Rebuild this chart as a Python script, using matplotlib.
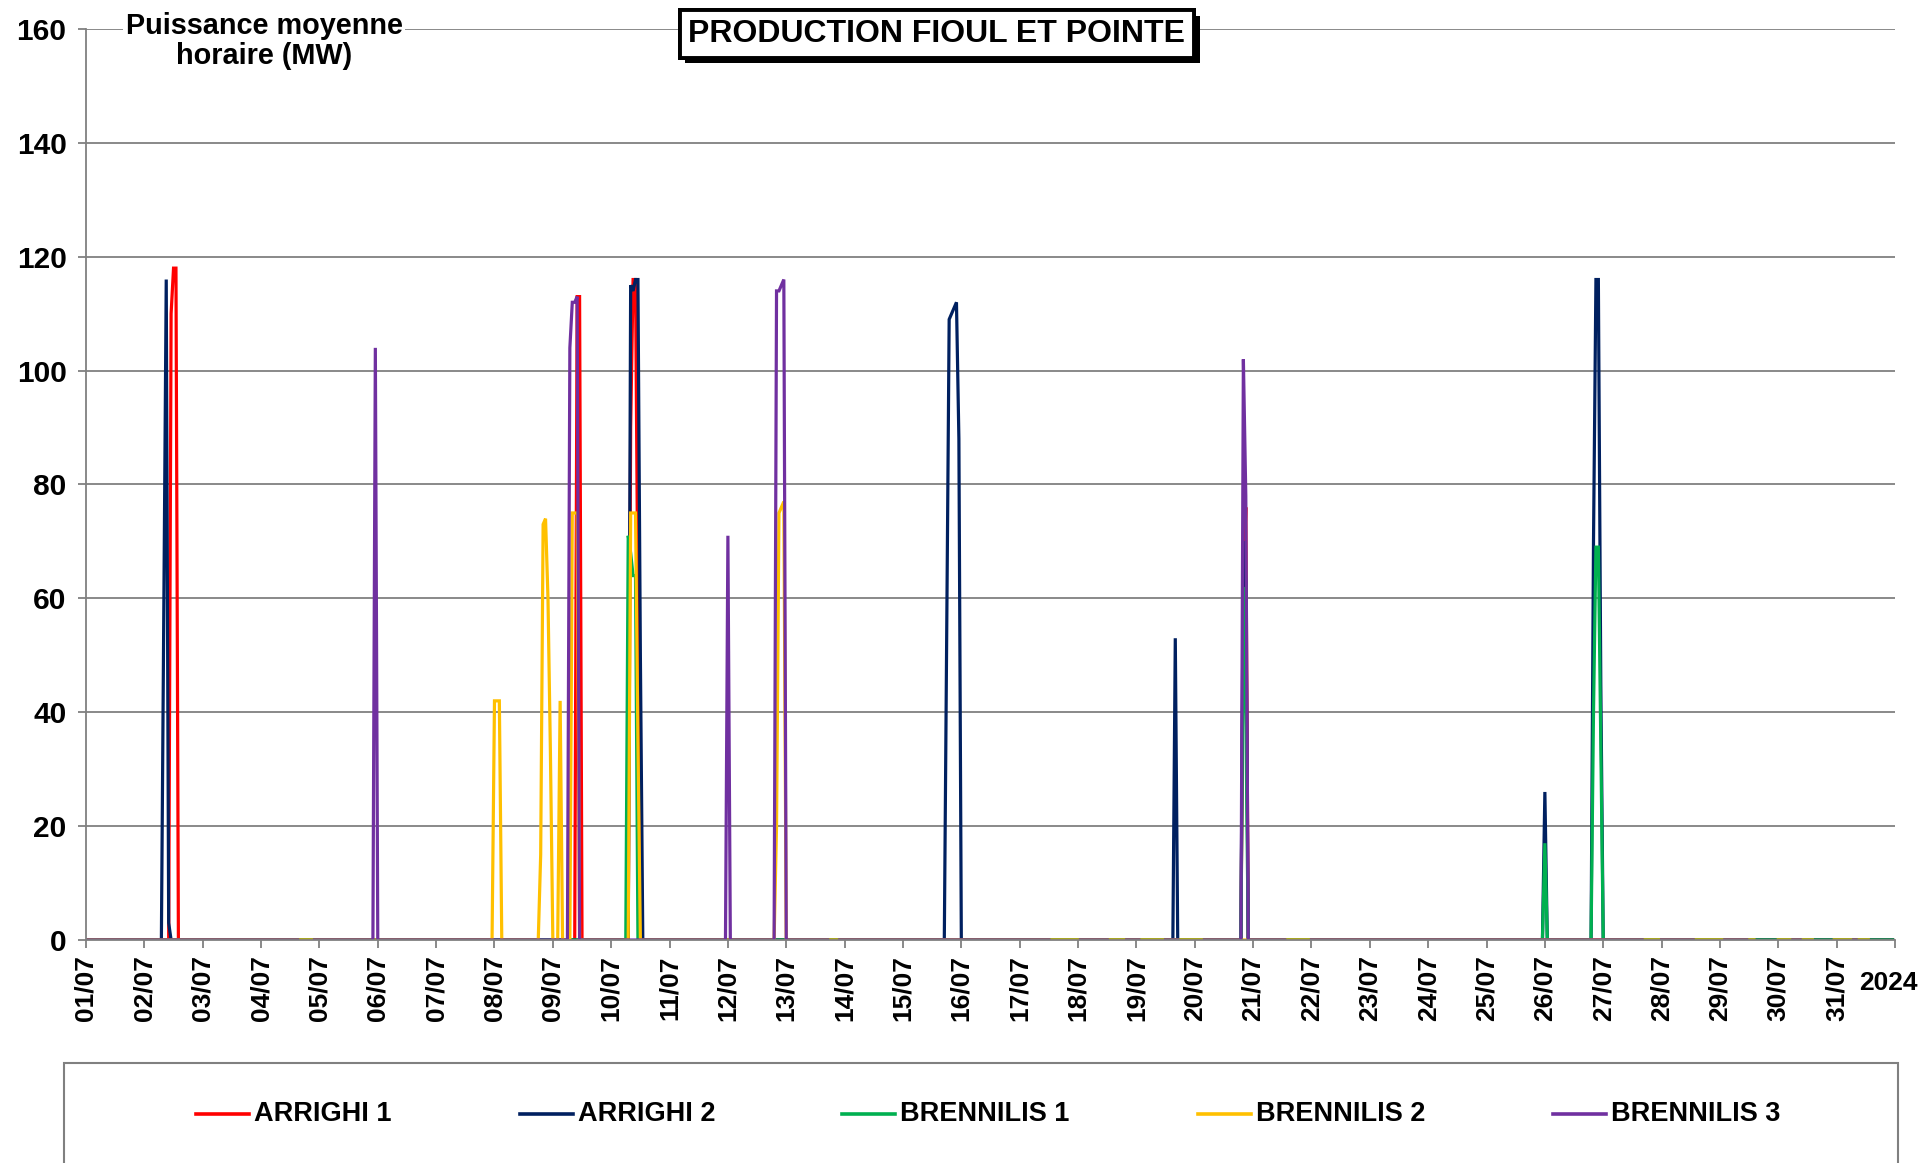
import numpy as np
import matplotlib
matplotlib.use("Agg")
import matplotlib.pyplot as plt
import matplotlib.patheffects as pe
from matplotlib.lines import Line2D
from matplotlib.patches import Rectangle

plt.rcParams['font.family'] = ['Liberation Sans', 'DejaVu Sans']
plt.rcParams['font.weight'] = 'bold'

# hourly data for July 2024 (744 hours); only non-zero hours are listed
N_HOURS = 744
DAY_LABELS = ['%02d/07' % d for d in range(1, 32)]
YEAR_LABEL = '2024'

SERIES_NAMES = ['ARRIGHI 1', 'ARRIGHI 2', 'BRENNILIS 1', 'BRENNILIS 2', 'BRENNILIS 3']
SERIES_COLORS = ['#FF0000', '#002060', '#00B050', '#FFC000', '#7030A0']

ARRIGHI1_H = [35, 36, 37, 202, 203, 224, 225, 226, 227, 476, 477]
ARRIGHI1_MW = [110, 118, 118, 113, 113, 90, 116, 116, 58, 60, 76]

ARRIGHI2_H = [32, 33, 34, 224, 225, 226, 227, 228, 354, 355, 356, 357, 358, 359,
              448, 476, 477, 600, 620, 621, 622, 623]
ARRIGHI2_MW = [58, 116, 3, 115, 114, 116, 116, 50, 55, 109, 110, 111, 112, 88,
               53, 70, 63, 26, 70, 116, 116, 45]

BRENNILIS1_H = [223, 224, 225, 226, 476, 477, 600, 620, 621, 622, 623]
BRENNILIS1_MW = [71, 68, 64, 64, 62, 40, 17, 40, 69, 69, 35]

BRENNILIS2_H = [168, 169, 170, 187, 188, 189, 190, 191, 195, 200, 201, 202,
                224, 225, 226, 227, 284, 285, 286, 287]
BRENNILIS2_MW = [42, 42, 42, 15, 73, 74, 60, 33, 42, 75, 75, 75,
                 75, 75, 75, 35, 20, 75, 76, 77]

BRENNILIS3_H = [119, 199, 200, 201, 202, 264, 284, 285, 286, 287, 476, 477]
BRENNILIS3_MW = [104, 104, 112, 112, 113, 71, 114, 114, 115, 116, 102, 78]

# hours with no value (line gaps), start and end hour included
BRENNILIS2_GAPS = [(687, 695), (711, 718), (734, 743)]
BRENNILIS3_GAPS = [(88, 93), (306, 309), (397, 408), (421, 427), (434, 443),
                   (450, 459), (494, 503), (641, 647), (662, 673), (684, 701),
                   (706, 726), (729, 743)]


def build_series(hours, values, gaps=()):
    s = np.zeros(N_HOURS)
    s[hours] = values
    for a, b in gaps:
        s[a:b + 1] = np.nan
    return s


series = [
    build_series(ARRIGHI1_H, ARRIGHI1_MW),
    build_series(ARRIGHI2_H, ARRIGHI2_MW),
    build_series(BRENNILIS1_H, BRENNILIS1_MW),
    build_series(BRENNILIS2_H, BRENNILIS2_MW, BRENNILIS2_GAPS),
    build_series(BRENNILIS3_H, BRENNILIS3_MW, BRENNILIS3_GAPS),
]
x_days = np.arange(N_HOURS) / 24.0

W, H = 1920, 1163
fig = plt.figure(figsize=(W / 100, H / 100), dpi=100)
ax = fig.add_axes([86 / W, 1 - 940 / H, (1895 - 86) / W, (940 - 29) / H])

for s, c in zip(series, SERIES_COLORS):
    ax.plot(x_days, s, color=c, lw=2.3, solid_joinstyle='miter')

ax.set_xlim(0, 31)
ax.set_ylim(0, 160)
ax.set_yticks(np.arange(0, 161, 20))
ax.set_xticks(np.arange(0, 32))
ax.set_xticklabels(DAY_LABELS + [''], rotation=90, fontsize=19, fontweight='bold')
ax.tick_params(axis='x', length=6, width=1.3, color='#808080', pad=5)
ax.tick_params(axis='y', length=6, width=1.3, color='#808080', pad=8, labelsize=21.5)
for lab in ax.get_yticklabels():
    lab.set_fontweight('bold')

ax.yaxis.grid(True, color='#808080', lw=1.3)
ax.set_axisbelow(True)
for side in ['top', 'right']:
    ax.spines[side].set_visible(False)
for side in ['left', 'bottom']:
    ax.spines[side].set_color('#808080')
    ax.spines[side].set_linewidth(1.3)

ax.annotate(YEAR_LABEL, xy=(31, 0), xytext=(-7, -43), textcoords='offset pixels',
            ha='center', va='center', fontsize=19, fontweight='bold')

# axis title on top of the plot
fig.text(264 / W, 1 - 41 / H, 'Puissance moyenne\nhoraire (MW)', ha='center', va='center',
         fontsize=20.8, fontweight='bold', linespacing=1.1,
         bbox=dict(facecolor='white', edgecolor='none', pad=2))

# framed title with shadow
title = fig.text(937 / W, 1 - 34 / H, 'PRODUCTION FIOUL ET POINTE', ha='center', va='center',
                 fontsize=23, fontweight='bold',
                 bbox=dict(boxstyle='square,pad=0.27', facecolor='white', edgecolor='black', lw=2.8))
title.get_bbox_patch().set_path_effects([
    pe.withSimplePatchShadow(offset=(4, -4), shadow_rgbFace='black', alpha=1.0),
    pe.Normal()])

# legend box (cut by the bottom of the picture)
fig.add_artist(Rectangle((64 / W, -0.05), (1898 - 64) / W, 0.05 + 1 - 1063 / H,
                         transform=fig.transFigure, facecolor='none',
                         edgecolor='#808080', lw=1.5))
leg_x = [196, 520, 842, 1198, 1553]
leg_y = 1 - 1114 / H
for x0, name, c in zip(leg_x, SERIES_NAMES, SERIES_COLORS):
    fig.add_artist(Line2D([x0 / W, (x0 + 53) / W], [leg_y, leg_y],
                          transform=fig.transFigure, color=c, lw=2.6))
    fig.text((x0 + 58) / W, leg_y, name, ha='left', va='center',
             fontsize=19.5, fontweight='bold')

fig.savefig('out.png', dpi=100)
